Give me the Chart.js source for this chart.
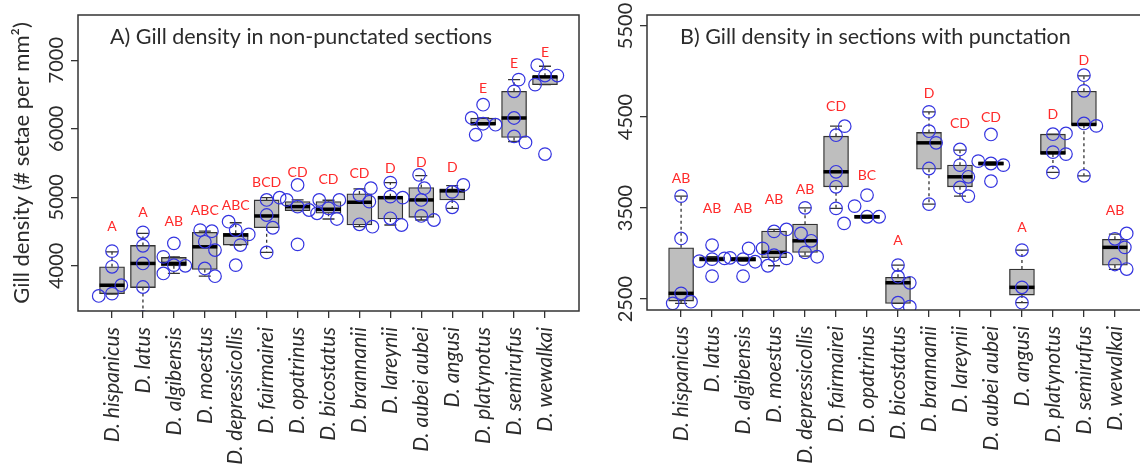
<!DOCTYPE html>
<html>
<head>
<meta charset="utf-8">
<script src="https://cdn.jsdelivr.net/npm/chart.js@4.4.1/dist/chart.umd.min.js"></script>
<style>
body { margin: 0; width: 1140px; height: 475px; overflow: hidden; background: #fff; position: relative; }
#panelA { position: absolute; left: 0; top: 0; }
#panelB { position: absolute; left: 590px; top: 0; }
</style>
</head>
<body>
<div id="panelA"><canvas id="graficaA" width="590" height="475"></canvas></div>
<div id="panelB"><canvas id="graficaB" width="600" height="475"></canvas></div>
<script>
const especies = ["D. hispanicus", "D. latus", "D. algibensis", "D. moestus", "D. depressicollis",
    "D. fairmairei", "D. opatrinus", "D. bicostatus", "D. brannanii", "D. lareynii",
    "D. aubei aubei", "D. angusi", "D. platynotus", "D. semirufus", "D. wewalkai"];

// A) secciones sin puntuacion
const q1A  = [3594, 3682, 3999, 3946, 4302, 4555, 4804, 4766, 4595, 4683, 4707, 4961, 6059, 5873, 6644];
const medA = [3716, 4034, 4034, 4277, 4448, 4727, 4863, 4825, 4927, 4994, 4961, 5093, 6073, 6157, 6757];
const q3A  = [3985, 4297, 4122, 4488, 4473, 4961, 4936, 4936, 5049, 5009, 5141, 5122, 6157, 6546, 6766];
const minA = [3585, 3250, 3888, 3848, 4302, 4195, 4804, 4683, 4570, 4595, 4668, 4839, 6059, 5814, 6644];
const maxA = [4204, 4473, 4130, 4507, 4628, 4994, 4961, 4956, 5122, 5214, 5317, 5171, 6157, 6717, 6912];
const letrasA = ["A", "A", "AB", "ABC", "ABC", "BCD", "CD", "CD", "CD", "D", "D", "D", "E", "E", "E"];
const letrasYA = [4570, 4775, 4643, 4804, 4873, 5214, 5366, 5264, 5352, 5425, 5507, 5439, 6581, 6947, 7108];
const puntosA = [
    [4214, 3985, 3716, 3594, 3560],
    [4488, 4292, 4034, 3690, 3250],
    [4130, 4327, 3888, 4009, 4000],
    [4521, 4504, 4350, 4229, 3961, 3848],
    [4643, 4521, 4302, 4458, 4009],
    [4961, 4994, 4741, 4555, 4195],
    [4961, 5180, 4312, 4863, 4814],
    [4961, 4839, 4766, 4683, 4961],
    [5034, 5132, 4936, 4605, 4570],
    [5214, 5009, 4994, 4693, 4595],
    [5327, 5132, 4961, 4727, 4668],
    [5078, 5180, 4854],
    [6157, 6351, 6073, 6059, 5912],
    [6717, 6546, 6157, 5888, 5800],
    [6927, 6776, 6776, 6644, 5630]
];
const jitterA = [
    [0, 0, 0.3, 0, -0.43],
    [0, 0, 0, 0, 0],
    [-0.34, 0, -0.34, 0, 0.37],
    [-0.15, 0.23, 0, 0.33, 0, 0.33],
    [-0.23, 0, 0.15, 0.42, 0],
    [0, 0.42, 0, 0.2, 0],
    [-0.35, 0, 0, 0, 0.37],
    [-0.3, 0, -0.37, 0.27, 0.35],
    [0, 0.37, 0.32, 0, 0.42],
    [0, 0, 0.4, 0, 0.36],
    [-0.07, 0.1, 0, 0, 0.41],
    [0, 0.36, 0],
    [-0.37, 0, 0, 0.4, -0.24],
    [0.15, 0, 0, 0, 0.37],
    [-0.25, 0, 0.4, -0.32, 0]
];
const ticksYA = [4000, 5000, 6000, 7000];

// B) secciones con puntuacion
const q1B  = [2478, 2917, 2917, 2954, 3013, 3733, 3386, 2453, 3927, 3733, 3971, 2544, 4092, 4410, 2873];
const medB = [2563, 2939, 2936, 3013, 3140, 3898, 3404, 2679, 4216, 3843, 3989, 2629, 4106, 4418, 3068];
const q3B  = [3063, 2965, 2958, 3246, 3323, 4289, 3422, 2739, 4330, 3971, 4007, 2830, 4311, 4783, 3156];
const minB = [2453, 2917, 2917, 2866, 2972, 3496, 3386, 2453, 3543, 3631, 3971, 2460, 3891, 3854, 2826];
const maxB = [3631, 2965, 2958, 3265, 3502, 4399, 3422, 2873, 4556, 4136, 4007, 3038, 4311, 4951, 3214];
const letrasB = ["AB", "AB", "AB", "AB", "AB", "CD", "BC", "A", "D", "CD", "CD", "A", "D", "D", "AB"];
const letrasYB = [3825, 3496, 3496, 3595, 3704, 4611, 3861, 3140, 4758, 4429, 4495, 3283, 4528, 5124, 3469];
const puntosB = [
    [3631, 3166, 2563, 2453, 2471],
    [2917, 3093, 2939, 2752, 2947],
    [2953, 2939, 2752, 3057, 2910],
    [3243, 2983, 3057, 3265, 2947, 2866],
    [3502, 3013, 3221, 3140, 2965],
    [4300, 3898, 3733, 3496, 4399, 3331],
    [3642, 3521, 3404, 3404],
    [2873, 2746, 2460, 2679, 2416],
    [4556, 4344, 3934, 3543, 4216],
    [4143, 3971, 3726, 3843, 3631],
    [4015, 3989, 4308, 3795, 3971],
    [3038, 2629, 2460],
    [4311, 4114, 3891, 4319, 4092],
    [4959, 4787, 4429, 3854, 4402],
    [3162, 2880, 3221, 2830, 3068]
];
const jitterB = [
    [0, 0, 0, -0.27, 0.32],
    [-0.41, 0, 0, 0, 0.4],
    [-0.42, 0, 0, 0.18, 0.39],
    [0, 0, -0.37, 0.4, 0.4, -0.2],
    [0, 0, -0.13, 0.2, 0.39],
    [0, 0, 0, 0, 0.28, 0.26],
    [0, -0.4, 0, 0.39],
    [0, 0, 0, 0.38, 0.38],
    [0, 0, 0, 0, 0.23],
    [0, 0, 0, 0.27, 0.27],
    [-0.41, 0, 0, 0, 0.4],
    [0, 0, 0],
    [0, 0, 0, 0.42, 0.42],
    [0, 0, 0, 0, 0.4],
    [0, 0, 0.38, 0.38, 0.32]
];
const ticksYB = [2500, 3000, 3500, 4000, 4500, 5000, 5500];
const etiquetasYB = ["2500", "", "3500", "", "4500", "", "5500"];

const fuente = "Lato";
const colorTexto = "#2b2b2b";

const pluginCajas = {
    id: "cajas",
    beforeDatasetsDraw(chart, args, opts) {
        const { ctx, chartArea, scales: { x, y } } = chart;
        ctx.save();
        ctx.beginPath();
        ctx.rect(chartArea.left, chartArea.top, chartArea.right - chartArea.left, chartArea.bottom - chartArea.top);
        ctx.clip();
        ctx.strokeStyle = "#333";
        ctx.lineWidth = 1.3;
        opts.q1.forEach((q, i) => {
            const px = x.getPixelForValue(i + 1);
            const yMin = y.getPixelForValue(opts.min[i]);
            const yMax = y.getPixelForValue(opts.max[i]);
            ctx.setLineDash([3, 3]);
            ctx.beginPath();
            ctx.moveTo(px, y.getPixelForValue(opts.q3[i]));
            ctx.lineTo(px, yMax);
            ctx.moveTo(px, y.getPixelForValue(q));
            ctx.lineTo(px, yMin);
            ctx.stroke();
            ctx.setLineDash([]);
            ctx.beginPath();
            ctx.moveTo(px - 6, yMax);
            ctx.lineTo(px + 6, yMax);
            ctx.moveTo(px - 6, yMin);
            ctx.lineTo(px + 6, yMin);
            ctx.stroke();
        });
        ctx.restore();
    },
    afterDatasetDraw(chart, args, opts) {
        if (args.meta.type !== "bar") return;
        const { ctx, scales: { x, y } } = chart;
        ctx.save();
        ctx.strokeStyle = "#000";
        ctx.lineWidth = 3.5;
        opts.med.forEach((m, i) => {
            const px = x.getPixelForValue(i + 1);
            const py = y.getPixelForValue(m);
            ctx.beginPath();
            ctx.moveTo(px - 12.5, py);
            ctx.lineTo(px + 12.5, py);
            ctx.stroke();
        });
        ctx.restore();
    },
    afterDraw(chart, args, opts) {
        const { ctx, chartArea, scales: { x, y } } = chart;
        ctx.save();
        ctx.fillStyle = "#ff2a2a";
        ctx.font = "14px " + fuente;
        ctx.textAlign = "center";
        ctx.textBaseline = "middle";
        opts.letras.forEach((l, i) => {
            ctx.fillText(l, x.getPixelForValue(i + 1), y.getPixelForValue(opts.letrasY[i]));
        });
        ctx.fillStyle = colorTexto;
        ctx.font = "21.5px " + fuente;
        ctx.textAlign = "left";
        ctx.fillText(opts.titulo, chartArea.left + opts.tituloX, 37);
        ctx.strokeStyle = "#333";
        ctx.lineWidth = 1.5;
        ctx.strokeRect(chartArea.left, chartArea.top, chartArea.right - chartArea.left, chartArea.bottom - chartArea.top);
        ctx.restore();
    }
};

function crearPanel(id, d) {
    const cajas = d.q1.map((q, i) => ({ x: i + 1, y: [q, d.q3[i]] }));
    const puntos = [];
    d.puntos.forEach((lista, i) => {
        lista.forEach((v, j) => puntos.push({ x: i + 1 + d.jitter[i][j], y: v }));
    });

    const ctx = document.getElementById(id).getContext("2d");
    return new Chart(ctx, {
        type: "bar",
        data: {
            datasets: [{
                type: "bar",
                data: cajas,
                backgroundColor: "#bebebe",
                borderColor: "#333",
                borderWidth: 1.3,
                borderSkipped: false,
                barThickness: 25,
                order: 2
            }, {
                type: "scatter",
                data: puntos,
                pointRadius: 6.3,
                pointBorderWidth: 1.2,
                pointBorderColor: "#3434e0",
                pointBackgroundColor: "rgba(0,0,0,0)",
                clip: 0,
                order: 1
            }]
        },
        plugins: [pluginCajas],
        options: {
            responsive: false,
            animation: false,
            devicePixelRatio: 1,
            layout: { padding: d.padding },
            plugins: {
                legend: { display: false },
                tooltip: { enabled: false },
                cajas: d
            },
            scales: {
                x: {
                    type: "linear",
                    min: -0.1,
                    max: 16.1,
                    offset: false,
                    afterBuildTicks: scale => { scale.ticks = especies.map((e, i) => ({ value: i + 1 })); },
                    afterFit: scale => { scale.height = d.altoX; },
                    grid: { display: true, drawOnChartArea: false, drawTicks: true, tickLength: 7, color: "#333", lineWidth: 1.3, offset: false },
                    border: { display: false },
                    ticks: {
                        minRotation: 90,
                        maxRotation: 90,
                        padding: 9,
                        color: colorTexto,
                        font: { family: fuente, size: 21, style: "italic" },
                        callback: v => especies[v - 1]
                    }
                },
                y: {
                    min: d.yMin,
                    max: d.yMax,
                    afterBuildTicks: scale => { scale.ticks = d.ticksY.map(v => ({ value: v })); },
                    afterFit: scale => { scale.width = d.anchoY; },
                    grid: { display: true, drawOnChartArea: false, drawTicks: true, tickLength: 7, color: "#333", lineWidth: 1.3 },
                    border: { display: false },
                    title: {
                        display: d.tituloY !== "",
                        text: d.tituloY,
                        color: colorTexto,
                        font: { family: fuente, size: 22 },
                        padding: { top: 9, bottom: 0 }
                    },
                    ticks: {
                        minRotation: 90,
                        maxRotation: 90,
                        crossAlign: "center",
                        padding: -9,
                        color: colorTexto,
                        font: { family: fuente, size: 20 },
                        callback: (v, i) => d.etiquetasY[i]
                    }
                }
            }
        }
    });
}

document.addEventListener("DOMContentLoaded", () => {
    crearPanel("graficaA", {
        q1: q1A, med: medA, q3: q3A, min: minA, max: maxA,
        letras: letrasA, letrasY: letrasYA, puntos: puntosA, jitter: jitterA,
        ticksY: ticksYA, etiquetasY: ticksYA.map(String),
        yMin: 3340, yMax: 7660,
        titulo: "A) Gill density in non-punctated sections", tituloX: 32,
        tituloY: "Gill density (# setae per mm\u00B2)",
        padding: { left: 0, top: 15, right: 11, bottom: 0 },
        anchoY: 78, altoX: 164
    });
    crearPanel("graficaB", {
        q1: q1B, med: medB, q3: q3B, min: minB, max: maxB,
        letras: letrasB, letrasY: letrasYB, puntos: puntosB, jitter: jitterB,
        ticksY: ticksYB, etiquetasY: etiquetasYB,
        yMin: 2380, yMax: 5620,
        titulo: "B) Gill density in sections with punctation", tituloX: 33,
        tituloY: "",
        padding: { left: 0, top: 15, right: 41, bottom: 0 },
        anchoY: 57, altoX: 165
    });
});
</script>
</body>
</html>
